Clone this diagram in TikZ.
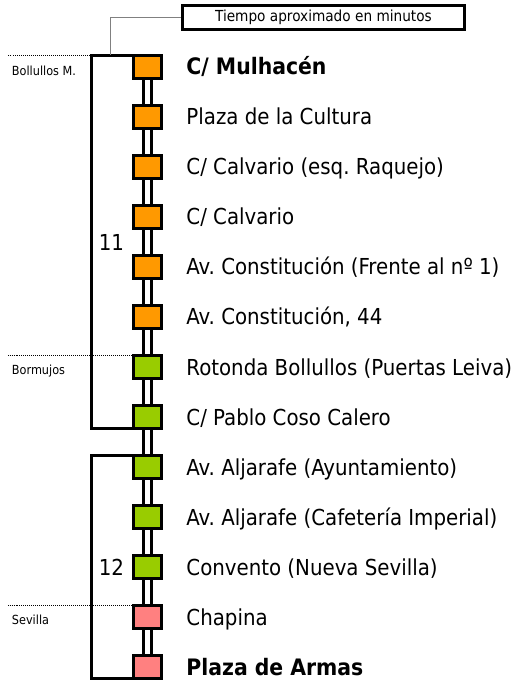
\documentclass[tikz,border=0pt]{standalone}
\usepackage{fontspec}
\setmainfont{DejaVu Sans Condensed}
\usetikzlibrary{calc}
\definecolor{stOrange}{RGB}{255,153,0}
\definecolor{stGreen}{RGB}{153,204,0}
\definecolor{stPink}{RGB}{255,128,128}
\tikzset{every picture/.style={line width=2.2pt}}
\frenchspacing

\begin{document}
\begin{tikzpicture}[x=0.75pt,y=0.75pt,yscale=-1]
\tikzset{
  stopbox/.style={draw, minimum width=21pt, minimum height=17.25pt, inner sep=0pt, outer sep=0pt},
  stname/.style={anchor=base west, inner sep=0pt, font=\fontsize{16.5}{18}\selectfont},
  stbold/.style={stname, font=\fontsize{17}{19}\selectfont\bfseries},
  zonename/.style={anchor=north west, inner sep=0pt, font=\fontsize{9.4}{11}\selectfont},
  zoneline/.style={line width=0.75pt, dash pattern=on 0.75pt off 0.75pt},
  mins/.style={inner sep=0pt, font=\fontsize{16.5}{18}\selectfont}
}
\useasboundingbox (0,0) rectangle (515,680);
%Stops
\foreach \i/\col/\sty/\txt in {1/stOrange/stbold/{C/ Mulhacén},
    2/stOrange/stname/{Plaza de la Cultura},
    3/stOrange/stname/{C/ Calvario (esq. Raquejo)},
    4/stOrange/stname/{C/ Calvario},
    5/stOrange/stname/{Av. Constitución (Frente al nº 1)},
    6/stOrange/stname/{Av. Constitución, 44},
    7/stGreen/stname/{Rotonda Bollullos (Puertas Leiva)},
    8/stGreen/stname/{C/ Pablo Coso Calero},
    9/stGreen/stname/{Av. Aljarafe (Ayuntamiento)},
    10/stGreen/stname/{Av. Aljarafe (Cafetería Imperial)},
    11/stGreen/stname/{Convento (Nueva Sevilla)},
    12/stPink/stname/{Chapina},
    13/stPink/stbold/{Plaza de Armas}} {
  \node[stopbox, fill=\col] (s\i) at (147.5, 17+50*\i) {};
  \node[\sty] (n\i) at ($(s\i.center)+(37.5,8)$) {\txt};
}
%Rails
\foreach \i [evaluate=\i as \j using int(\i+1)] in {1,...,12} {
  \draw ([xshift=-3pt]s\i.south) -- ([xshift=-3pt]s\j.north);
  \draw ([xshift=3pt]s\i.south) -- ([xshift=3pt]s\j.north);
}
%Brackets
\coordinate (bk1) at ($(s1.north west)+(-42,0)$);
\draw (s1.north west) -- (bk1) |- (s8.south west);
\draw (s9.north west) -- ++(-42,0) coordinate (bk2) |- (s13.south west);
\node[mins] (m11) at ($(s4.center)!0.5!(s5.center)+(-36,0)$) {11};
\node[mins] (m12) at ($(s11.center)+(-36,0)$) {12};
%Title box
\node[draw, minimum width=211.5pt, minimum height=18pt, inner sep=0pt,
  font=\fontsize{11.4}{13}\selectfont] (tbox) at (323.5,17.5) {Tiempo aproximado en minutos};
\draw[line width=0.75pt, gray] (tbox.west) -| ($(bk1)+(19,0)$);
%Zones
\draw[zoneline] (bk1) -- ++(-84,0) coordinate (zl1);
\draw[zoneline] (s7.north west) -- ++(-126,0) coordinate (zl2);
\draw[zoneline] (s12.north west) -- ++(-126,0) coordinate (zl3);
\node[zonename] (z1) at ($(zl1)+(3,9)$) {Bollullos M.};
\node[zonename] (z2) at ($(zl2)+(3,8.5)$) {Bormujos};
\node[zonename] (z3) at ($(zl3)+(3,8.5)$) {Sevilla};
\end{tikzpicture}
\end{document}
